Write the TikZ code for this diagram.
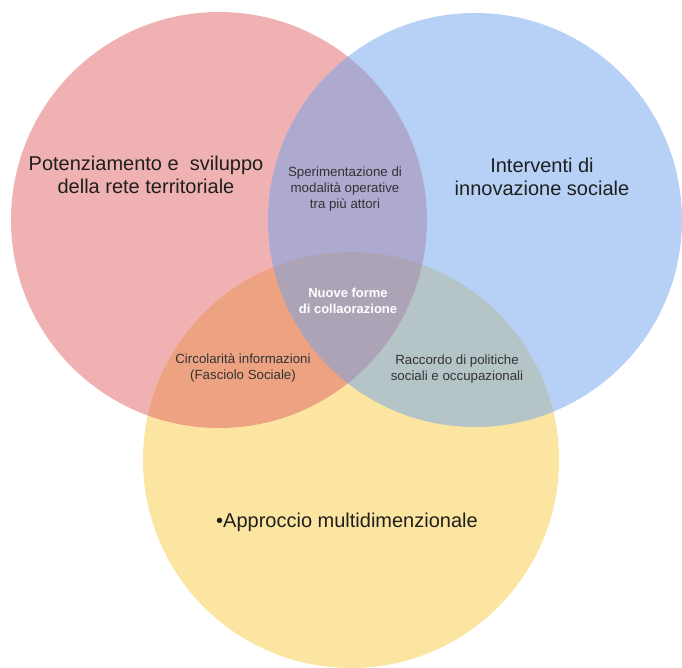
\documentclass[tikz,border=0pt]{standalone}
\usepackage{fontspec}
\setmainfont{Liberation Sans}
\usepackage{xcolor}
\usepackage{tikz}
\usetikzlibrary{positioning}

\definecolor{vred}{RGB}{223,99,101}
\definecolor{vblue}{RGB}{111,163,237}
\definecolor{vyellow}{RGB}{249,203,65}

\begin{document}
\begin{tikzpicture}[x=1pt, y=-1pt,
  disc/.style={fill opacity=0.5},
  big/.style={align=center, text=black!88, font=\fontsize{20}{23}\selectfont},
  small/.style={align=center, text=black!80, font=\fontsize{13.3}{16.2}\selectfont},
  core/.style={align=center, text=white, font=\bfseries\fontsize{13}{15.5}\selectfont}]
\useasboundingbox (0,0) rectangle (682,668);
% the three sets
\fill[disc, vyellow] (351,460) circle (208pt);
\fill[disc, vred] (219,220) circle (208pt);
\fill[disc, vblue] (475,220) circle (207pt);
% labels of the sets
\node[big] (rete) at (146,175) {Potenziamento e \ sviluppo\\della rete territoriale};
\node[big] (innov) at (542,177) {Interventi di\\innovazione sociale};
\node[big] (multi) at (347,522) {\textbullet Approccio multidimenzionale};
% labels of the overlaps
\node[small] (speri) at (345,189) {Sperimentazione di\\modalità operative\\tra più attori};
\node[small] (circo) at (243,368) {Circolarità informazioni\\(Fasciolo Sociale)};
\node[small] (racco) at (457,369) {Raccordo di politiche\\sociali e occupazionali};
\node[core] (nuove) at (348,301) {Nuove forme\\di collaorazione};
\end{tikzpicture}
\end{document}
